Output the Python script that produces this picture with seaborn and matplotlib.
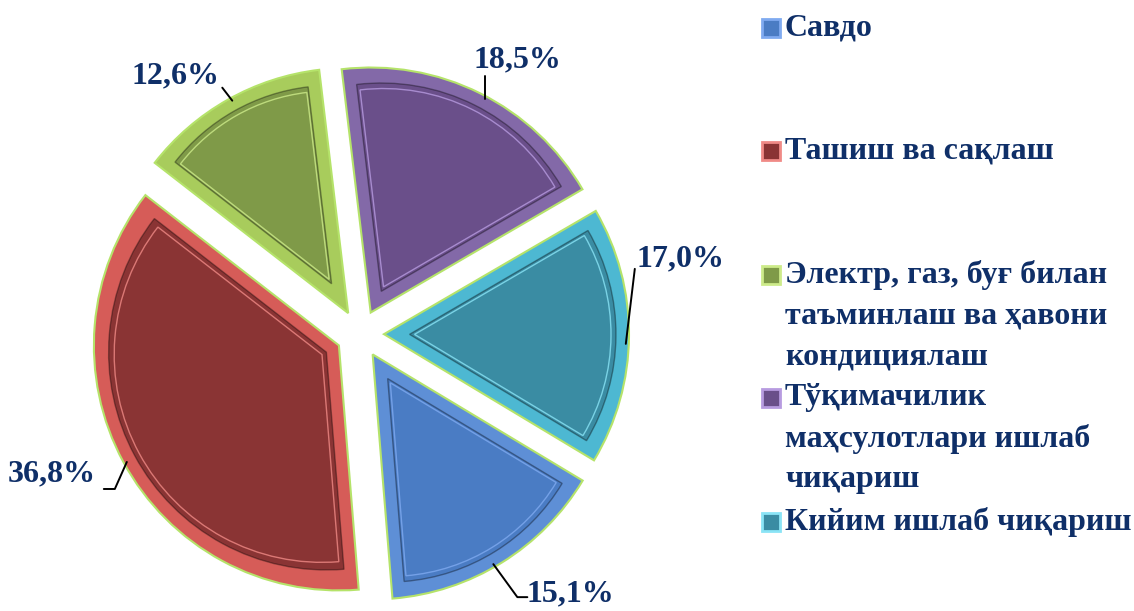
import numpy as np
import seaborn as sns
import matplotlib.pyplot as plt
from matplotlib.patches import Wedge, Rectangle

sns.set_theme(style="white")
plt.rcParams['font.family'] = ['Liberation Serif', 'DejaVu Serif']

# data
categories = ["Савдо", "Ташиш ва сақлаш",
              "Электр, газ, буғ билан\nтаъминлаш ва ҳавони\nкондициялаш",
              "Тўқимачилик\nмаҳсулотлари ишлаб\nчиқариш",
              "Кийим ишлаб чиқариш"]
shares = [15.1, 36.8, 12.6, 18.5, 17.0]
main_colors = ["#4A7CC4", "#8A3434", "#7F9A48", "#6A4F8A", "#3A8CA3"]
bevel_colors = ["#5E8FD6", "#D65C58", "#A8CC5C", "#8369A8", "#4DB8D2"]
line_colors = ["#7FAAF0", "#F08A86", "#CDEB8A", "#B79BE0", "#8AE4F6"]
navy = "#0F2F68"

# where the leader touches each slice (fraction of the slice's angle)
anchor_frac = [0.535, 0.497, 0.519, 0.525, 0.531]
# leader line bend points and label centre, pixels relative to the anchor
leader_pts = [[(24, -33), (34, -33)], [(-12, -27), (-23, -27)], [(-10, 13)],
              [(0, 23)], [(9, 75)]]
label_offsets = [(77, -30), (-75, -12), (-57, 25), (33, 39), (55, 85)]

fig = plt.figure(figsize=(11.34, 6.11), dpi=100)
ax = fig.add_axes([0, 0, 1, 1])

cx, cy, R, e = 360, 277, 245, 24
wedges, _ = ax.pie(shares, colors=bevel_colors, startangle=-31, counterclock=False,
                   explode=[e] * 5, center=(cx, cy), radius=R,
                   wedgeprops=dict(edgecolor="#B5E36A", linewidth=1.5))
ax.set_xlim(0, 1134)
ax.set_ylim(0, 611)
ax.set_aspect('equal')
ax.axis('off')

# bevel: inset wedge inside each slice
d = 13
for w, col, lc in zip(wedges, main_colors, line_colors):
    t1, t2 = w.theta1, w.theta2
    half = np.radians(t2 - t1) / 2
    mid = np.radians((t1 + t2) / 2)
    u = np.array([np.cos(mid), np.sin(mid)])
    shift = d / np.sin(half)
    c2 = np.array(w.center) + u * shift
    r2 = R - d - shift
    ax.add_patch(Wedge(c2, r2, t1, t2, facecolor=col, edgecolor=(0, 0, 0, 0.35),
                       linewidth=1.0, zorder=3))
    ax.add_patch(Wedge(c2 + u * 5, r2 - 10, t1, t2, facecolor='none', edgecolor=lc,
                       linewidth=1.0, alpha=0.8, zorder=3))

# data labels with leader lines
for w, v, f, pts, off in zip(wedges, shares, anchor_frac, leader_pts, label_offsets):
    # wedge theta1/theta2 go counterclockwise; slices were laid out clockwise
    ang = np.radians(w.theta2 - f * (w.theta2 - w.theta1))
    p = np.array(w.center) + (R - 3) * np.array([np.cos(ang), np.sin(ang)])
    xs = [p[0]] + [p[0] + q[0] for q in pts]
    ys = [p[1]] + [p[1] + q[1] for q in pts]
    ax.plot(xs, ys, color='black', lw=1.4, zorder=5)
    txt = f"{v:.1f}".replace('.', ',') + '%'
    ax.text(p[0] + off[0], p[1] + off[1], txt, ha='center', va='center',
            fontsize=23, fontweight='bold', color=navy, zorder=5)

# legend drawn as manual entries (marker centre y in pixels from bottom)
legend_y = [583, 460, 336, 213, 89]
for name, col, bev, y in zip(categories, main_colors, line_colors, legend_y):
    ax.add_patch(Rectangle((762, y - 9), 18, 18, facecolor=col, edgecolor=bev, linewidth=2))
    for i, line in enumerate(name.split('\n')):
        ax.text(785, y - 41 * i, line, ha='left', va='center', fontsize=23,
                fontweight='bold', color=navy)

fig.savefig("out.png", dpi=100)
